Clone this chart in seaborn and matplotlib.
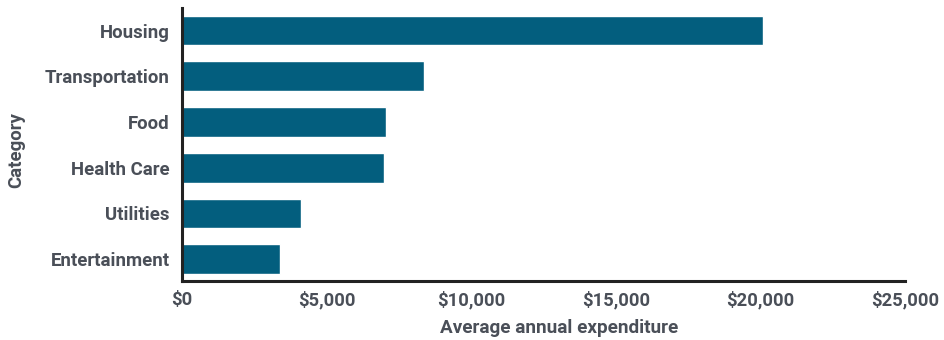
import matplotlib
matplotlib.use("Agg")
import matplotlib.pyplot as plt
import seaborn as sns
import pandas as pd
from matplotlib.ticker import FuncFormatter

categories = ["Housing", "Transportation", "Food", "Health Care", "Utilities", "Entertainment"]
expenditure = [20100, 8370, 7060, 6990, 4110, 3400]
x_ticks = [0, 5000, 10000, 15000, 20000, 25000]

df = pd.DataFrame({"Category": categories, "Average annual expenditure": expenditure})

sns.set_theme(style="white")
plt.rcParams["font.family"] = ["Roboto", "DejaVu Sans"]
text_color = "#4a4f58"
bar_color = "#035e7e"

fig = plt.figure(figsize=(9.45, 3.4), dpi=100)
ax = fig.add_axes([0.1926, 0.1735, 0.7651, 0.8025])

sns.barplot(data=df, y="Category", x="Average annual expenditure", order=categories,
            color=bar_color, saturation=1, width=0.65, ax=ax)

ax.set_xlim(0, 25000)
ax.set_ylim(5.48, -0.49)
ax.set_xticks(x_ticks)
ax.xaxis.set_major_formatter(FuncFormatter(lambda v, p: f"${v:,.0f}"))

for side in ("top", "right"):
    ax.spines[side].set_visible(False)
for side in ("left", "bottom"):
    ax.spines[side].set_color("#222222")
    ax.spines[side].set_linewidth(2.2)

ax.tick_params(axis="y", length=0, pad=9, labelsize=13.4, labelcolor=text_color)
ax.tick_params(axis="x", length=0, pad=7, labelsize=13.2, labelcolor=text_color)
for lbl in ax.get_xticklabels() + ax.get_yticklabels():
    lbl.set_fontweight("bold")

ax.set_xlabel("Average annual expenditure", fontsize=13.6, fontweight="bold", color=text_color)
ax.set_ylabel("Category", fontsize=13.4, fontweight="bold", color=text_color)
ax.xaxis.set_label_coords(0.521, -0.138)
ax.yaxis.set_label_coords(-0.217, 0.48)

fig.savefig("out.png", dpi=100)
